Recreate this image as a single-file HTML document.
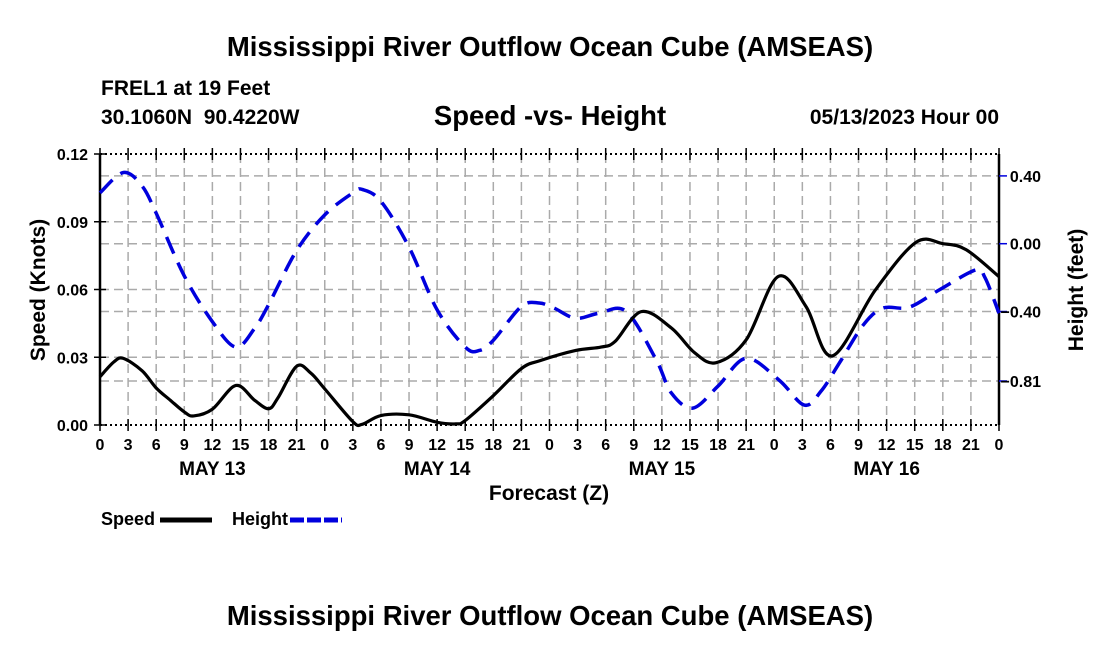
<!DOCTYPE html>
<html><head><meta charset="utf-8"><style>
body{margin:0;background:#fff;}
svg{display:block;font-family:"Liberation Sans",sans-serif;font-weight:bold;}
</style></head><body>
<svg id="c" width="1100" height="650">
<text x="550" y="56" font-size="27.5" text-anchor="middle">Mississippi River Outflow Ocean Cube (AMSEAS)</text>
<text x="101" y="95" font-size="21">FREL1 at 19 Feet</text>
<text x="101" y="124" font-size="21" xml:space="preserve">30.1060N  90.4220W</text>
<text x="550" y="125" font-size="27.5" text-anchor="middle">Speed -vs- Height</text>
<text x="999" y="124" font-size="21" text-anchor="end">05/13/2023 Hour 00</text>
<text x="550" y="625" font-size="27.5" text-anchor="middle">Mississippi River Outflow Ocean Cube (AMSEAS)</text>
<text transform="translate(45,290) rotate(-90)" font-size="21" text-anchor="middle">Speed (Knots)</text>
<text transform="translate(1083,290) rotate(-90)" font-size="21" text-anchor="middle">Height (feet)</text>
<text x="549" y="500" font-size="21" text-anchor="middle">Forecast (Z)</text>
<g>
<text x="101" y="525" font-size="18">Speed</text>
<line x1="160" y1="520" x2="212" y2="520" stroke="#000" stroke-width="5"/>
<text x="232" y="525" font-size="18">Height</text>
<line x1="290" y1="520" x2="342" y2="520" stroke="#0000dd" stroke-width="5" stroke-dasharray="14,3"/>
</g>
<g id="grid"></g><g id="axes"></g><g id="series"></g>
</svg>
<script>
const hours=[0,1.5,2.5,4.5,6,7.5,9,10,12,14.5,16.5,18,19,21,22.5,24,27,28,30,33,36,38,39,42,45,47,50.8,53.5,55,57.8,61,63.5,65.8,69,72.4,75.4,78.2,82.8,87.1,90,92.5,96];
const speed=[0.0214,0.0280,0.0295,0.024,0.0164,0.011,0.0058,0.004,0.007,0.0175,0.011,0.0072,0.012,0.026,0.023,0.016,0.0015,0.0003,0.0042,0.0045,0.0012,0.0005,0.002,0.013,0.025,0.0285,0.033,0.0345,0.037,0.0502,0.043,0.032,0.0276,0.0377,0.0657,0.0524,0.0306,0.0598,0.0808,0.0803,0.0776,0.0657];
const heightHours=[0,2.5,4.5,6,9,12,14.5,16.5,18,21,24,27,28,30,33,36,39,40.5,42,45,46.9,48.5,50.8,53.3,56.2,59.4,61,63.3,66,69,72.5,75.2,77,79,81.5,83.6,86.4,89.6,93.5,94.5,96];
const height=[0.30,0.42,0.34,0.18,-0.19,-0.46,-0.61,-0.50,-0.36,-0.04,0.17,0.30,0.32,0.25,-0.02,-0.39,-0.61,-0.63,-0.57,-0.37,-0.35,-0.38,-0.44,-0.41,-0.40,-0.686,-0.88,-0.97,-0.84,-0.676,-0.804,-0.952,-0.87,-0.70,-0.48,-0.38,-0.375,-0.273,-0.155,-0.2,-0.41];
const speedTicks=[0,0.03,0.06,0.09,0.12];
const heightTicks=[0.40,0.00,-0.40,-0.81];
const hourLabels=[0,3,6,9,12,15,18,21];
const dayLabels=["MAY 13","MAY 14","MAY 15","MAY 16"];
const X0=100,X1=999,Y0=425,Y1=154;
const xs=h=>X0+(X1-X0)*h/96;
const ys=v=>Y0-(Y0-Y1)*v/0.12;
const yh=v=>243.7-169.5*v;
const NS="http://www.w3.org/2000/svg";
function mk(t,a,p){const e=document.createElementNS(NS,t);for(const k in a)e.setAttribute(k,a[k]);p.appendChild(e);return e;}
const grid=document.getElementById('grid'),axes=document.getElementById('axes'),ser=document.getElementById('series');
const gs={stroke:"#aaa","stroke-width":1.5,"stroke-dasharray":"9,5"};
for(let h=3;h<96;h+=3){const l=mk('line',Object.assign({x1:xs(h),x2:xs(h),y1:Y1,y2:Y0},gs),grid);

}
speedTicks.slice(1,-1).forEach(v=>{const l=mk('line',Object.assign({x1:X0,x2:X1,y1:ys(v),y2:ys(v)},gs),grid);

});
heightTicks.forEach(v=>{const l=mk('line',Object.assign({x1:X0,x2:X1,y1:yh(v),y2:yh(v)},gs),grid);

});
mk('line',{x1:X0,x2:X0,y1:Y1,y2:Y0,stroke:"#000","stroke-width":2.5},axes);
mk('line',{x1:X1,x2:X1,y1:Y1,y2:Y0,stroke:"#000","stroke-width":2.5},axes);
mk('line',{x1:X0,x2:X1,y1:Y1,y2:Y1,stroke:"#000","stroke-width":2,"stroke-dasharray":"2,3"},axes);
mk('line',{x1:X0,x2:X1,y1:Y0,y2:Y0,stroke:"#000","stroke-width":2,"stroke-dasharray":"2,3"},axes);
for(let h=0;h<=96;h+=3){
mk('line',{x1:xs(h),x2:xs(h),y1:Y0-6,y2:Y0+6,stroke:"#000","stroke-width":1.5},axes);
mk('line',{x1:xs(h),x2:xs(h),y1:Y1-6,y2:Y1+6,stroke:"#000","stroke-width":1.5},axes);
const t=mk('text',{x:xs(h),y:450,"font-size":16,"text-anchor":"middle"},axes);
t.textContent=hourLabels[(h/3)%8];

}
dayLabels.forEach((d,i)=>{const t=mk('text',{x:xs(12+24*i),y:475,"font-size":19,"text-anchor":"middle"},axes);t.textContent=d;

});
speedTicks.forEach(v=>{mk('line',{x1:X0-6,x2:X0+6,y1:ys(v),y2:ys(v),stroke:"#000","stroke-width":1.5},axes);
const t=mk('text',{x:88,y:ys(v)+6,"font-size":16,"text-anchor":"end"},axes);t.textContent=v.toFixed(2);

});
heightTicks.forEach(v=>{mk('line',{x1:X1,x2:X1+8,y1:yh(v),y2:yh(v),stroke:"#0000dd","stroke-width":1.5},axes);
const t=mk('text',{x:1041,y:yh(v)+6,"font-size":16,"text-anchor":"end"},axes);t.textContent=(v<0?"\u2212":"")+Math.abs(v).toFixed(2);

});
function smooth(pts){let d=`M${pts[0][0]},${pts[0][1]}`;
for(let i=0;i<pts.length-1;i++){const p0=pts[Math.max(0,i-1)],p1=pts[i],p2=pts[i+1],p3=pts[Math.min(pts.length-1,i+2)];
d+=` C${p1[0]+(p2[0]-p0[0])/6},${p1[1]+(p2[1]-p0[1])/6} ${p2[0]-(p3[0]-p1[0])/6},${p2[1]-(p3[1]-p1[1])/6} ${p2[0]},${p2[1]}`;}return d;}
const hp=mk('path',{d:smooth(heightHours.map((h,i)=>[xs(h),yh(height[i])])),fill:"none",stroke:"#0000dd","stroke-width":3.5,"stroke-dasharray":"18,10"},ser);


const sp=mk('path',{d:smooth(hours.map((h,i)=>[xs(h),ys(speed[i])])),fill:"none",stroke:"#000","stroke-width":3.2},ser);


</script>
</body></html>
